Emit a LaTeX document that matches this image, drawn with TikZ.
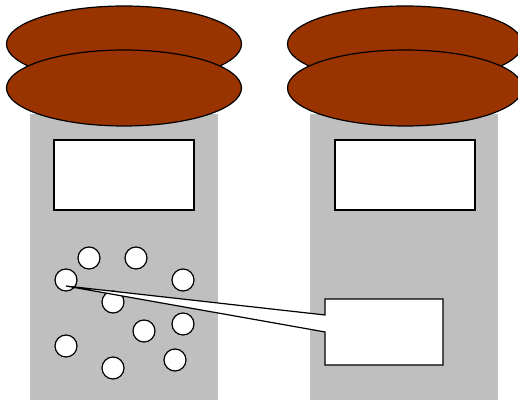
\documentclass[tikz,border=0pt]{standalone}
\usetikzlibrary{shapes.geometric, shapes.callouts, positioning}
\definecolor{lidbrown}{RGB}{153,51,0}
\tikzstyle{jar} = [rectangle, minimum width=188pt, minimum height=286pt, inner sep=0pt, fill=lightgray]
\tikzstyle{lid} = [ellipse, minimum width=235pt, minimum height=76pt, inner sep=0pt, draw=black, fill=lidbrown]
\tikzstyle{label} = [rectangle, minimum width=140pt, minimum height=70pt, inner sep=0pt, draw=black, fill=white]
\tikzstyle{bead} = [circle, minimum size=22pt, inner sep=0pt, draw=black, fill=white]
\tikzstyle{note} = [rectangle callout, minimum width=118pt, minimum height=66pt, inner sep=0pt, draw=black, fill=white, callout pointer width=17pt]

\begin{document}
\begin{tikzpicture}[x=1pt, y=-1pt, line width=1.2pt]
\useasboundingbox (0,0) rectangle (518,403);

% Jars
\node (jarA) [jar] at (124,257) {};
\node (jarB) [jar] at (404,257) {};

% Lids
\node (lidAtop) [lid] at (124,44) {};
\node (lidAbot) [lid] at (124,88) {};
\node (lidBtop) [lid] at (405,44) {};
\node (lidBbot) [lid] at (405,88) {};

% Labels
\node (labelA) [label] at (124,175) {};
\node (labelB) [label] at (405,175) {};

% Beads
\node (b1) [bead] at (89,258) {};
\node (b2) [bead] at (136,258) {};
\node (b3) [bead] at (66,280) {};
\node (b4) [bead] at (183,280) {};
\node (b5) [bead] at (113,302) {};
\node (b6) [bead] at (183,324) {};
\node (b7) [bead] at (144,331) {};
\node (b8) [bead] at (66,346) {};
\node (b9) [bead] at (175,360) {};
\node (b10) [bead] at (113,368) {};

% Callout
\coordinate (tip) at (66,286);
\node (zoomnote) [note, callout absolute pointer={(tip)}] at (384,332) {};

\end{tikzpicture}
\end{document}
